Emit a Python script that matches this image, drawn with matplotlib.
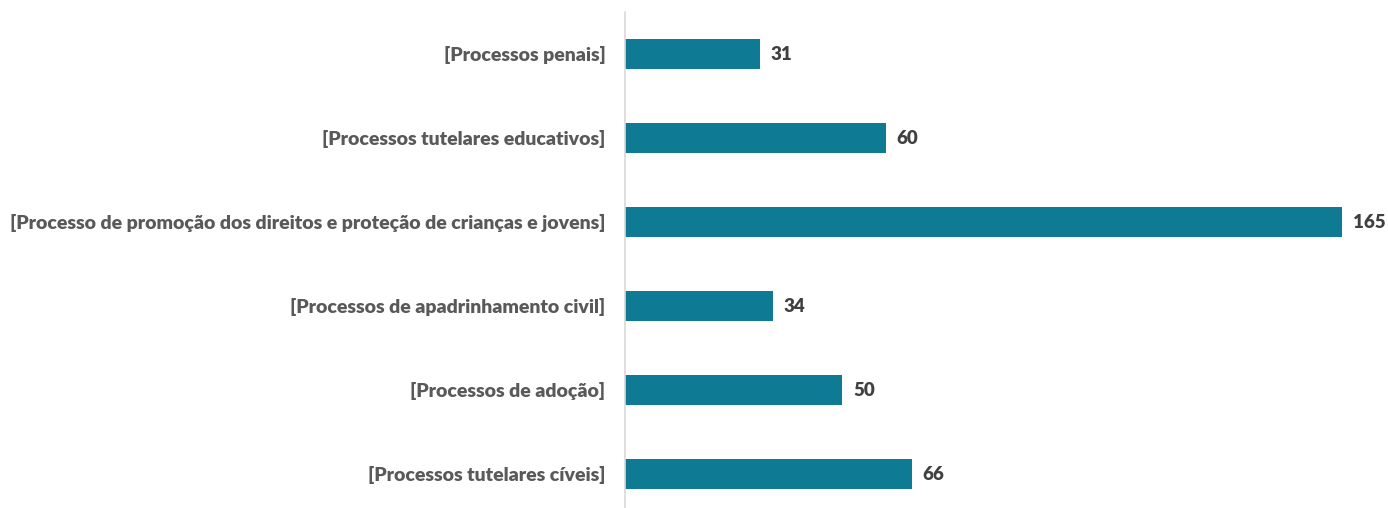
import matplotlib
matplotlib.use('Agg')
import matplotlib.pyplot as plt

# Processos por tipo
categorias = [
    '[Processos penais]',
    '[Processos tutelares educativos]',
    '[Processo de promoção dos direitos e proteção de crianças e jovens]',
    '[Processos de apadrinhamento civil]',
    '[Processos de adoção]',
    '[Processos tutelares cíveis]',
]
valores = [31, 60, 165, 34, 50, 66]

cor_barra = '#0f7a94'
cor_texto = '#595959'
cor_valor = '#404040'

plt.rcParams['font.family'] = ['Lato', 'DejaVu Sans']

fig = plt.figure(figsize=(13.88, 5.08), dpi=100)
ax = fig.add_axes([625 / 1388, -8 / 508, 763 / 1388, 504 / 508])

pos = list(range(len(categorias)))
ax.barh(pos, valores, height=0.36, color=cor_barra)
ax.set_ylim(len(categorias) - 0.5, -0.5)
ax.set_xlim(0, 763 / (717 / 165))

for y, v in zip(pos, valores):
    ax.text(v + 2.5, y, str(v), va='center', ha='left', fontsize=13.5,
            fontweight='heavy', color=cor_valor)

ax.set_yticks(pos)
ax.set_yticklabels(categorias, fontsize=14, fontweight='heavy', color=cor_texto)
ax.tick_params(axis='y', length=0, pad=14)
ax.set_xticks([])
for lado in ['top', 'right', 'bottom']:
    ax.spines[lado].set_visible(False)
ax.spines['left'].set_color('#d9d9d9')
ax.spines['left'].set_linewidth(1.2)

fig.savefig('out.png', dpi=100)
